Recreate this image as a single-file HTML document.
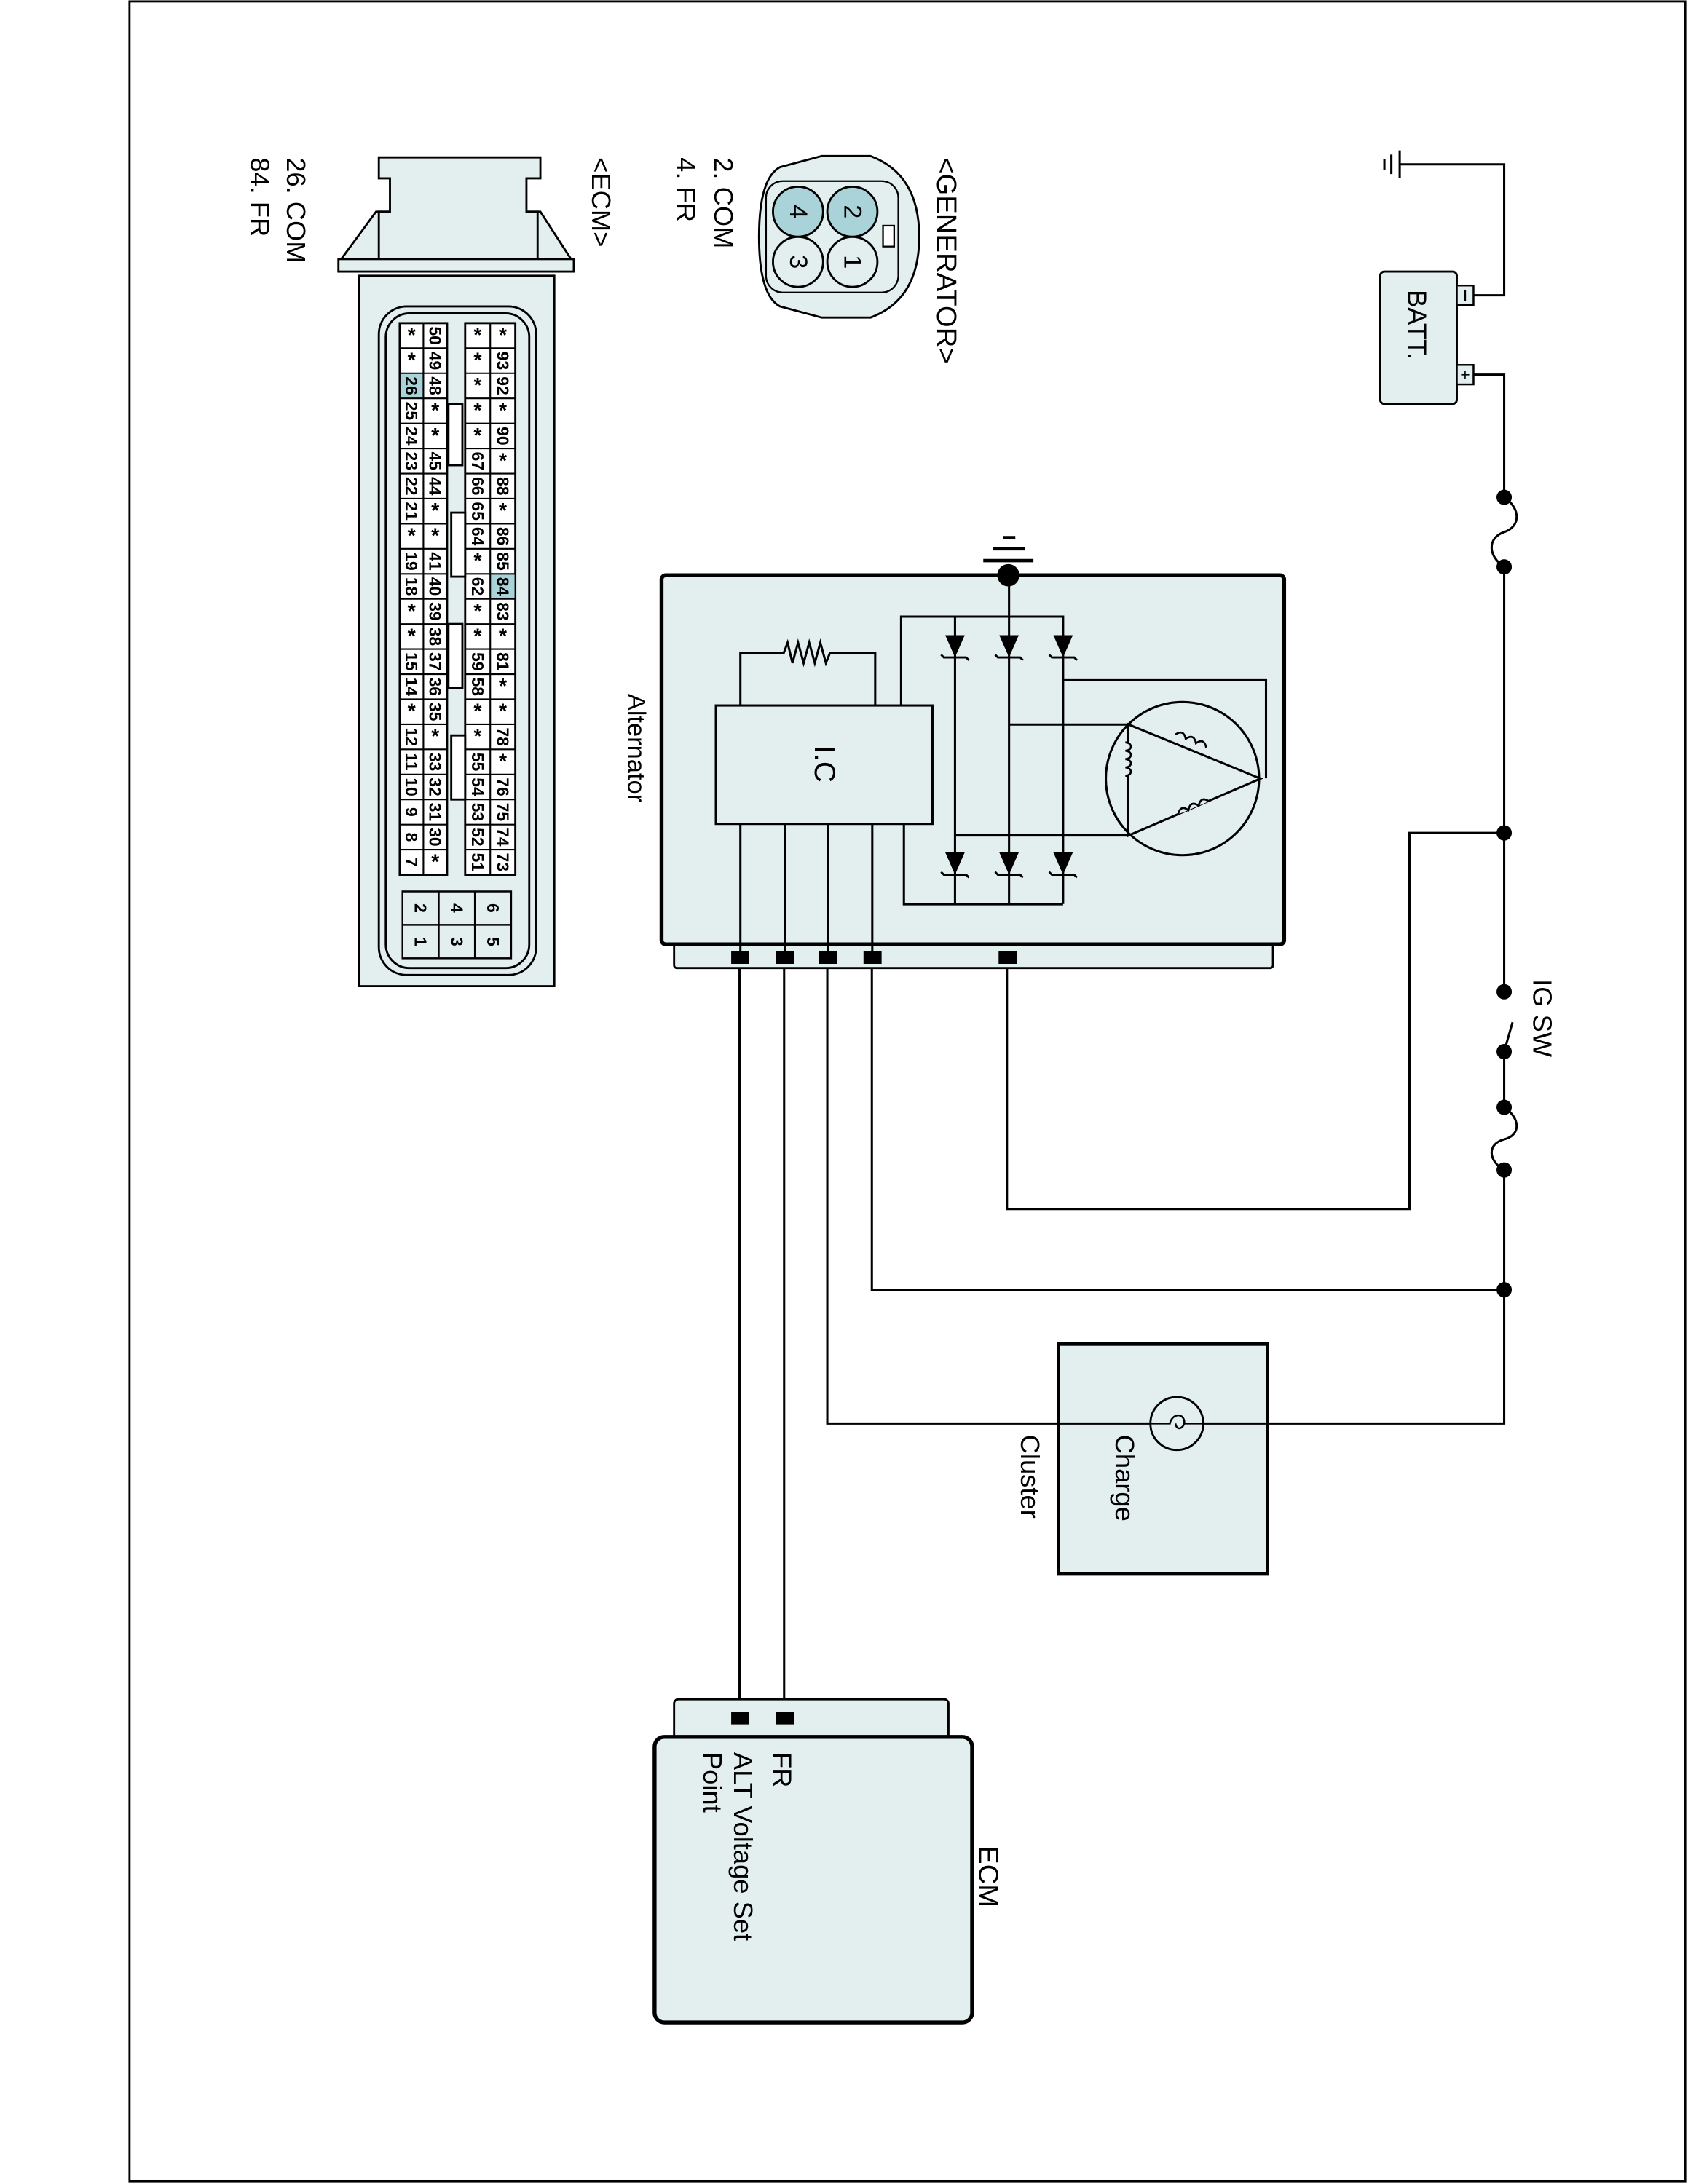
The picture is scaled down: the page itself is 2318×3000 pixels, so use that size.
<!DOCTYPE html>
<html><head><meta charset="utf-8"><style>
html,body{margin:0;padding:0;background:#fff;}
svg{display:block;}
text{font-family:"Liberation Sans",Arial,sans-serif;fill:#000;}
.c{font-size:12px;font-weight:bold;text-anchor:middle;dominant-baseline:central;}
.s{font-size:15px;font-weight:bold;text-anchor:middle;dominant-baseline:central;}
</style></head><body>
<svg width="2318" height="3000" viewBox="0 0 1212 1568" preserveAspectRatio="none" xmlns="http://www.w3.org/2000/svg">
<defs>
<g id="d"><path d="M-7,0 L7,0 L0,16 Z" fill="#000"/><path d="M-10,14 L-8,16 L8,16 L10,18" fill="none" stroke="#000" stroke-width="1.5"/></g>
</defs>
<rect x="93" y="1" width="1117" height="1565" fill="none" stroke="#000" stroke-width="1.5"/>

<!-- ground & battery -->
<g stroke="#000" stroke-width="1.6" fill="none">
<path d="M994,114 V122 M999,111 V125 M1005,108 V128"/>
<path d="M1005,118 H1080 V212 H1058"/>
<path d="M1058,269 H1080 V357"/>
<path d="M1080,357 C1092,365 1092,378 1080,382 C1068,386 1068,399 1080,407"/>
<path d="M1080,407 V712"/>
<path d="M1080,755 L1086,734"/>
<path d="M1080,755 V795"/>
<path d="M1080,795 C1092,803 1092,815 1080,818 C1068,821 1068,833 1080,840"/>
<path d="M1080,840 V1022 H594 V688"/>
<path d="M1080,598 H1012 V868 H723 V688"/>
<path d="M1080,926 H626 V688"/>
<path d="M531,688 V1233 M563,688 V1233"/>
</g>
<rect x="991" y="195" width="55" height="95" rx="3" fill="#e3eeee" stroke="#000" stroke-width="1.5"/>
<rect x="1046" y="205" width="12" height="14" fill="#e3eeee" stroke="#000" stroke-width="1.3"/>
<rect x="1046" y="262" width="12" height="14" fill="#e3eeee" stroke="#000" stroke-width="1.3"/>
<path d="M1052,208 V216" stroke="#000" stroke-width="1.2"/>
<text x="1052" y="273" font-size="12" text-anchor="middle">+</text>
<text x="1011" y="208" font-size="19" transform="rotate(90,1011,208)">BATT.</text>
<g fill="#000"><circle cx="1080" cy="357" r="5.5"/><circle cx="1080" cy="407" r="5.5"/><circle cx="1080" cy="598" r="5.5"/><circle cx="1080" cy="712" r="5.5"/><circle cx="1080" cy="755" r="5.5"/><circle cx="1080" cy="795" r="5.5"/><circle cx="1080" cy="840" r="5.5"/><circle cx="1080" cy="926" r="5.5"/></g>
<text x="1101" y="703" font-size="19" transform="rotate(90,1101,703)">IG SW</text>

<!-- Alternator -->
<rect x="484" y="670" width="430" height="25" rx="2" fill="#e3eeee" stroke="#000" stroke-width="1.5"/>
<rect x="475" y="413" width="447" height="265" rx="3" fill="#e3eeee" stroke="#000" stroke-width="2.8"/>
<g fill="#000"><rect x="525" y="683" width="13" height="9"/><rect x="557" y="683" width="13" height="9"/><rect x="588" y="683" width="13" height="9"/><rect x="620" y="683" width="13" height="9"/><rect x="717" y="683" width="13" height="9"/></g>
<g stroke="#000" stroke-width="1.6" fill="none">
<path d="M706,402.5 H742 M713,394 H736 M720,386 H729" stroke-width="2.4"/>
<path d="M724.5,416 V649"/>
<path d="M647,506 V442.7 H763.3 V649 M685.7,442.7 V649"/>
<path d="M649,591.5 V649.2 H763.3"/>
<rect x="514" y="506.5" width="155.5" height="85"/>
<path d="M531.6,506.5 V468.8 H562.7 L565.5,461.4 L569,476 L573,461.4 L577,476 L581,461.4 L585,476 L589,461.4 L593,476 L595.9,468.8 H628.4 V506.5"/>
<path d="M531.6,591.5 V688 M563.6,591.5 V688 M594.6,591.5 V688 M626.3,591.5 V688"/>
<path d="M763.3,488.4 H909 V558.8"/>
<path d="M724.5,520.2 H810 M685.7,599.8 H810"/>
<circle cx="849" cy="559" r="55"/>
<path d="M810,520 V600 L905,559 Z"/>
</g>
<circle cx="724" cy="413" r="8" fill="#000"/>
<use href="#d" x="685.7" y="456"/><use href="#d" x="724.5" y="456"/><use href="#d" x="763.3" y="456"/>
<use href="#d" x="685.7" y="612"/><use href="#d" x="724.5" y="612"/><use href="#d" x="763.3" y="612"/>
<g fill="#e3eeee" stroke="#000" stroke-width="1.4">
<path d="M810,545 a4,3 0 1 1 0,6 a4,3 0 1 1 0,6 a4,3 0 1 1 0,6 a4,3 0 1 1 0,6" transform="translate(-2,-12)"/>
<path d="M843,532 q4,-6 8,0 q4,-6 8,0 q4,-6 8,0" transform="rotate(23,855,532)"/>
<path d="M845,580 q4,-6 8,0 q4,-6 8,0 q4,-6 8,0" transform="rotate(-23,857,580)"/>
</g>
<text x="585" y="535" font-size="21" transform="rotate(90,585,535)">I.C</text>
<text x="451" y="498" font-size="18" transform="rotate(90,451,498)">Alternator</text>

<!-- Cluster -->
<rect x="760" y="965" width="150" height="165" fill="#e3eeee" stroke="#000" stroke-width="2.5"/>
<path d="M760,1022 H910" stroke="#000" stroke-width="1.6"/>
<circle cx="845" cy="1022" r="19" fill="#e3eeee" stroke="#000" stroke-width="1.5"/>
<path d="M826,1022 H840 C841,1016 848,1014 850,1019 C852,1024 845,1029 844,1022 M850,1022 H864" fill="none" stroke="#000" stroke-width="1.3"/>
<text x="801" y="1030" font-size="19" transform="rotate(90,801,1030)">Charge</text>
<text x="733" y="1030" font-size="19" transform="rotate(90,733,1030)">Cluster</text>

<!-- ECM bottom -->
<rect x="484" y="1220" width="197" height="32" rx="3" fill="#e3eeee" stroke="#000" stroke-width="1.5"/>
<rect x="470" y="1247" width="228" height="205" rx="7" fill="#e3eeee" stroke="#000" stroke-width="2.8"/>
<g fill="#000"><rect x="525" y="1229" width="13" height="9"/><rect x="557" y="1229" width="13" height="9"/></g>
<text x="703" y="1325" font-size="20" transform="rotate(90,703,1325)">ECM</text>
<text x="555" y="1258" font-size="19" transform="rotate(90,555,1258)">FR</text>
<text x="527" y="1258" font-size="19" transform="rotate(90,527,1258)">ALT Voltage Set</text>
<text x="505" y="1258" font-size="19" transform="rotate(90,505,1258)">Point</text>

<!-- Generator connector -->
<path d="M560,120 Q545,128 545,170 Q545,212 560,220 L590,228 L625,228 Q660,215 660,170 Q660,125 625,112 L590,112 Z" fill="#e3eeee" stroke="#000" stroke-width="1.5"/>
<rect x="550" y="130" width="95" height="80" rx="12" fill="none" stroke="#000" stroke-width="1.2"/>
<circle cx="612" cy="152" r="18" fill="#a9d3d8" stroke="#000" stroke-width="1.5"/>
<circle cx="573" cy="152" r="18" fill="#a9d3d8" stroke="#000" stroke-width="1.5"/>
<circle cx="612" cy="188" r="18" fill="#e3eeee" stroke="#000" stroke-width="1.5"/>
<circle cx="573" cy="188" r="18" fill="#e3eeee" stroke="#000" stroke-width="1.5"/>
<rect x="634" y="162" width="8" height="15" fill="#fff" stroke="#000" stroke-width="1.2"/>
<text x="612" y="152" class="c" style="font-size:18px;font-weight:normal" transform="rotate(90,612,152)">2</text>
<text x="573" y="152" class="c" style="font-size:18px;font-weight:normal" transform="rotate(90,573,152)">4</text>
<text x="612" y="188" class="c" style="font-size:18px;font-weight:normal" transform="rotate(90,612,188)">1</text>
<text x="573" y="188" class="c" style="font-size:18px;font-weight:normal" transform="rotate(90,573,188)">3</text>
<text x="673" y="113" font-size="20" transform="rotate(90,673,113)">&lt;GENERATOR&gt;</text>
<text x="513" y="113" font-size="19" transform="rotate(90,513,113)">2. COM</text>
<text x="486" y="113" font-size="19" transform="rotate(90,486,113)">4. FR</text>

<!-- ECM connector -->
<text x="425" y="113" font-size="19" transform="rotate(90,425,113)">&lt;ECM&gt;</text>
<text x="206" y="113" font-size="19" transform="rotate(90,206,113)">26. COM</text>
<text x="180" y="113" font-size="19" transform="rotate(90,180,113)">84. FR</text>
<g fill="#e3eeee" stroke="#000" stroke-width="1.5">
<path d="M270,152 L245,186 H410 L388,152 Z"/>
<path d="M272,113 H388 V128 H378 V152 H386 V190 H272 V152 H280 V128 H272 Z"/>
<rect x="243" y="186" width="169" height="9"/>
<rect x="258" y="198" width="140" height="510"/>
<rect x="272" y="220" width="113" height="480" rx="20"/>
<rect x="277" y="225" width="103" height="470" rx="17" fill="none"/>
<rect x="287" y="232" width="34" height="396" fill="#fff"/>
<rect x="334" y="232" width="36" height="396" fill="#fff"/>
</g>
<rect x="287" y="268" width="17" height="18" fill="#a9d3d8"/>
<rect x="352" y="412" width="18" height="18" fill="#a9d3d8"/>
<g stroke="#000" stroke-width="1.1" fill="none">
<path d="M304,232 V628 M352,232 V628 M287,232 H321 V628 H287 Z M334,232 H370 V628 H334 Z"/>
<path d="M287,250H321M334,250H370M287,268H321M334,268H370M287,286H321M334,286H370M287,304H321M334,304H370M287,322H321M334,322H370M287,340H321M334,340H370M287,358H321M334,358H370M287,376H321M334,376H370M287,394H321M334,394H370M287,412H321M334,412H370M287,430H321M334,430H370M287,448H321M334,448H370M287,466H321M334,466H370M287,484H321M334,484H370M287,502H321M334,502H370M287,520H321M334,520H370M287,538H321M334,538H370M287,556H321M334,556H370M287,574H321M334,574H370M287,592H321M334,592H370M287,610H321M334,610H370"/>
</g>
<g fill="#fff" stroke="#000" stroke-width="1.5">
<rect x="322" y="290" width="10" height="44"/><rect x="324" y="368" width="10" height="46"/><rect x="322" y="448" width="10" height="46"/><rect x="324" y="528" width="10" height="46"/>
</g>
<g fill="#e3eeee" stroke="#000" stroke-width="1.3">
<rect x="289" y="640" width="78" height="48"/>
<path d="M289,664 H367 M315,640 V688 M341,640 V688" fill="none"/>
</g>
<text class="c" x="302" y="652" transform="rotate(90,302,652)">2</text><text class="c" x="302" y="676" transform="rotate(90,302,676)">1</text>
<text class="c" x="328" y="652" transform="rotate(90,328,652)">4</text><text class="c" x="328" y="676" transform="rotate(90,328,676)">3</text>
<text class="c" x="354" y="652" transform="rotate(90,354,652)">6</text><text class="c" x="354" y="676" transform="rotate(90,354,676)">5</text>
<!-- column A -->
<text class="s" x="295.5" y="241">*</text>
<text class="s" x="295.5" y="259">*</text>
<text class="c" x="295.5" y="277" transform="rotate(90,295.5,277)">26</text>
<text class="c" x="295.5" y="295" transform="rotate(90,295.5,295)">25</text>
<text class="c" x="295.5" y="313" transform="rotate(90,295.5,313)">24</text>
<text class="c" x="295.5" y="331" transform="rotate(90,295.5,331)">23</text>
<text class="c" x="295.5" y="349" transform="rotate(90,295.5,349)">22</text>
<text class="c" x="295.5" y="367" transform="rotate(90,295.5,367)">21</text>
<text class="s" x="295.5" y="385">*</text>
<text class="c" x="295.5" y="403" transform="rotate(90,295.5,403)">19</text>
<text class="c" x="295.5" y="421" transform="rotate(90,295.5,421)">18</text>
<text class="s" x="295.5" y="439">*</text>
<text class="s" x="295.5" y="457">*</text>
<text class="c" x="295.5" y="475" transform="rotate(90,295.5,475)">15</text>
<text class="c" x="295.5" y="493" transform="rotate(90,295.5,493)">14</text>
<text class="s" x="295.5" y="511">*</text>
<text class="c" x="295.5" y="529" transform="rotate(90,295.5,529)">12</text>
<text class="c" x="295.5" y="547" transform="rotate(90,295.5,547)">11</text>
<text class="c" x="295.5" y="565" transform="rotate(90,295.5,565)">10</text>
<text class="c" x="295.5" y="583" transform="rotate(90,295.5,583)">9</text>
<text class="c" x="295.5" y="601" transform="rotate(90,295.5,601)">8</text>
<text class="c" x="295.5" y="619" transform="rotate(90,295.5,619)">7</text>
<!-- column B -->
<text class="c" x="312.5" y="241" transform="rotate(90,312.5,241)">50</text>
<text class="c" x="312.5" y="259" transform="rotate(90,312.5,259)">49</text>
<text class="c" x="312.5" y="277" transform="rotate(90,312.5,277)">48</text>
<text class="s" x="312.5" y="295">*</text>
<text class="s" x="312.5" y="313">*</text>
<text class="c" x="312.5" y="331" transform="rotate(90,312.5,331)">45</text>
<text class="c" x="312.5" y="349" transform="rotate(90,312.5,349)">44</text>
<text class="s" x="312.5" y="367">*</text>
<text class="s" x="312.5" y="385">*</text>
<text class="c" x="312.5" y="403" transform="rotate(90,312.5,403)">41</text>
<text class="c" x="312.5" y="421" transform="rotate(90,312.5,421)">40</text>
<text class="c" x="312.5" y="439" transform="rotate(90,312.5,439)">39</text>
<text class="c" x="312.5" y="457" transform="rotate(90,312.5,457)">38</text>
<text class="c" x="312.5" y="475" transform="rotate(90,312.5,475)">37</text>
<text class="c" x="312.5" y="493" transform="rotate(90,312.5,493)">36</text>
<text class="c" x="312.5" y="511" transform="rotate(90,312.5,511)">35</text>
<text class="s" x="312.5" y="529">*</text>
<text class="c" x="312.5" y="547" transform="rotate(90,312.5,547)">33</text>
<text class="c" x="312.5" y="565" transform="rotate(90,312.5,565)">32</text>
<text class="c" x="312.5" y="583" transform="rotate(90,312.5,583)">31</text>
<text class="c" x="312.5" y="601" transform="rotate(90,312.5,601)">30</text>
<text class="s" x="312.5" y="619">*</text>
<!-- column C -->
<text class="s" x="343" y="241">*</text>
<text class="s" x="343" y="259">*</text>
<text class="s" x="343" y="277">*</text>
<text class="s" x="343" y="295">*</text>
<text class="s" x="343" y="313">*</text>
<text class="c" x="343" y="331" transform="rotate(90,343,331)">67</text>
<text class="c" x="343" y="349" transform="rotate(90,343,349)">66</text>
<text class="c" x="343" y="367" transform="rotate(90,343,367)">65</text>
<text class="c" x="343" y="385" transform="rotate(90,343,385)">64</text>
<text class="s" x="343" y="403">*</text>
<text class="c" x="343" y="421" transform="rotate(90,343,421)">62</text>
<text class="s" x="343" y="439">*</text>
<text class="s" x="343" y="457">*</text>
<text class="c" x="343" y="475" transform="rotate(90,343,475)">59</text>
<text class="c" x="343" y="493" transform="rotate(90,343,493)">58</text>
<text class="s" x="343" y="511">*</text>
<text class="s" x="343" y="529">*</text>
<text class="c" x="343" y="547" transform="rotate(90,343,547)">55</text>
<text class="c" x="343" y="565" transform="rotate(90,343,565)">54</text>
<text class="c" x="343" y="583" transform="rotate(90,343,583)">53</text>
<text class="c" x="343" y="601" transform="rotate(90,343,601)">52</text>
<text class="c" x="343" y="619" transform="rotate(90,343,619)">51</text>
<!-- column D -->
<text class="s" x="361" y="241">*</text>
<text class="c" x="361" y="259" transform="rotate(90,361,259)">93</text>
<text class="c" x="361" y="277" transform="rotate(90,361,277)">92</text>
<text class="s" x="361" y="295">*</text>
<text class="c" x="361" y="313" transform="rotate(90,361,313)">90</text>
<text class="s" x="361" y="331">*</text>
<text class="c" x="361" y="349" transform="rotate(90,361,349)">88</text>
<text class="s" x="361" y="367">*</text>
<text class="c" x="361" y="385" transform="rotate(90,361,385)">86</text>
<text class="c" x="361" y="403" transform="rotate(90,361,403)">85</text>
<text class="c" x="361" y="421" transform="rotate(90,361,421)">84</text>
<text class="c" x="361" y="439" transform="rotate(90,361,439)">83</text>
<text class="s" x="361" y="457">*</text>
<text class="c" x="361" y="475" transform="rotate(90,361,475)">81</text>
<text class="s" x="361" y="493">*</text>
<text class="s" x="361" y="511">*</text>
<text class="c" x="361" y="529" transform="rotate(90,361,529)">78</text>
<text class="s" x="361" y="547">*</text>
<text class="c" x="361" y="565" transform="rotate(90,361,565)">76</text>
<text class="c" x="361" y="583" transform="rotate(90,361,583)">75</text>
<text class="c" x="361" y="601" transform="rotate(90,361,601)">74</text>
<text class="c" x="361" y="619" transform="rotate(90,361,619)">73</text>
</svg>
</body></html>
